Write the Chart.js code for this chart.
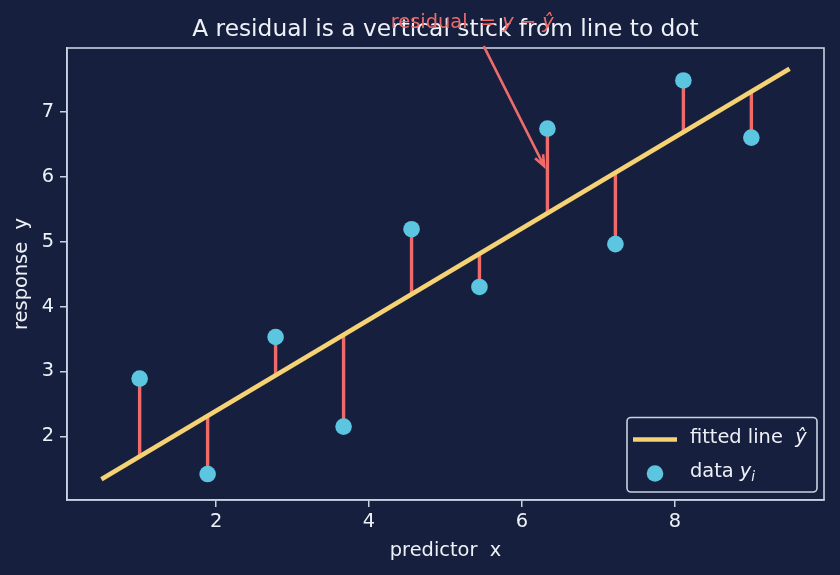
<!DOCTYPE html>
<html>
<head>
<meta charset="utf-8">
<script src="https://cdn.jsdelivr.net/npm/chart.js@4"></script>
<style>
html, body { margin: 0; padding: 0; background: #16203e; }
#wrap { width: 840px; height: 575px; }
</style>
</head>
<body>
<div id="wrap"><canvas id="chart" width="840" height="575"></canvas></div>
<script>
// data
const xValues = [1.0, 1.889, 2.778, 3.667, 4.556, 5.444, 6.333, 7.222, 8.111, 9.0];
const yValues = [2.89, 1.42, 3.53, 2.15, 5.19, 4.30, 6.74, 4.96, 7.48, 6.60];
const fitX = [0.5, 9.5];
const fitY = [1.34, 7.66];
const xTicks = [2, 4, 6, 8];
const yTicks = [2, 3, 4, 5, 6, 7];
const arrowTip = [6.29, 6.16];
const arrowTail = [5.50, 8.01];
const noteAt = [5.35, 8.37];

const BG = '#16203e';
const TEXT = '#eef1f7';
const FRAME = '#c9d1e2';
const LINE = '#f5d273';
const DOT = '#5cc5e0';
const RED = '#ef6a6a';
const FONT = "'DejaVu Sans', sans-serif";
const FS = 19.4;

// fitted value on the line for a given x
const slope = (fitY[1] - fitY[0]) / (fitX[1] - fitX[0]);
const yHat = x => fitY[0] + slope * (x - fitX[0]);

// draws a row of text runs, centred on cx
function drawRuns(ctx, runs, cx, cy) {
    let total = 0;
    runs.forEach(r => { ctx.font = r.font; total += ctx.measureText(r.t).width; });
    let x = cx - total / 2;
    runs.forEach(r => {
        ctx.font = r.font;
        ctx.fillText(r.t, x, cy + (r.dy || 0));
        x += ctx.measureText(r.t).width;
    });
}

const residualPlugin = {
    id: 'residuals',
    beforeDraw(chart) {
        const ctx = chart.ctx;
        ctx.save();
        ctx.fillStyle = BG;
        ctx.fillRect(0, 0, chart.width, chart.height);
        ctx.restore();
    },
    beforeDatasetsDraw(chart) {
        const ctx = chart.ctx;
        const xs = chart.scales.x, ys = chart.scales.y;
        ctx.save();
        ctx.strokeStyle = RED;
        ctx.lineWidth = 3.4;
        xValues.forEach((x, i) => {
            const px = xs.getPixelForValue(x);
            ctx.beginPath();
            ctx.moveTo(px, ys.getPixelForValue(yValues[i]));
            ctx.lineTo(px, ys.getPixelForValue(yHat(x)));
            ctx.stroke();
        });
        ctx.restore();
    },
    afterDatasetsDraw(chart) {
        const ctx = chart.ctx;
        const xs = chart.scales.x, ys = chart.scales.y;
        const a = chart.chartArea;
        ctx.save();

        // frame round the plot
        ctx.strokeStyle = FRAME;
        ctx.lineWidth = 1.6;
        ctx.strokeRect(a.left, a.top, a.right - a.left, a.bottom - a.top);

        // title
        ctx.fillStyle = TEXT;
        ctx.textAlign = 'left';
        ctx.textBaseline = 'middle';
        drawRuns(ctx, [{ t: 'A residual is a vertical stick from line to dot', font: '23.3px ' + FONT }],
            (a.left + a.right) / 2, 30);

        // arrow
        const tx = xs.getPixelForValue(arrowTail[0]), ty = ys.getPixelForValue(arrowTail[1]);
        const hx = xs.getPixelForValue(arrowTip[0]), hy = ys.getPixelForValue(arrowTip[1]);
        ctx.strokeStyle = RED;
        ctx.lineWidth = 2.6;
        ctx.beginPath();
        ctx.moveTo(tx, ty);
        ctx.lineTo(hx, hy);
        const ang = Math.atan2(hy - ty, hx - tx);
        const hl = 12;
        ctx.moveTo(hx - hl * Math.cos(ang - 0.38), hy - hl * Math.sin(ang - 0.38));
        ctx.lineTo(hx, hy);
        ctx.lineTo(hx - hl * Math.cos(ang + 0.38), hy - hl * Math.sin(ang + 0.38));
        ctx.stroke();

        // annotation text
        ctx.fillStyle = RED;
        const norm = FS + 'px ' + FONT, ital = 'oblique ' + FS + 'px ' + FONT;
        drawRuns(ctx, [
            { t: 'residual  ', font: norm },
            { t: '= ', font: norm },
            { t: 'y', font: ital },
            { t: ' \u2212 ', font: norm },
            { t: '\u0177', font: ital }
        ], xs.getPixelForValue(noteAt[0]), ys.getPixelForValue(noteAt[1]));

        // legend
        const lx = 627, ly = 417.5, lw = 190, lh = 74.5;
        ctx.fillStyle = 'rgba(22,32,62,0.85)';
        ctx.strokeStyle = FRAME;
        ctx.lineWidth = 1.6;
        ctx.beginPath();
        ctx.roundRect(lx, ly, lw, lh, 4);
        ctx.fill();
        ctx.stroke();

        ctx.strokeStyle = LINE;
        ctx.lineWidth = 4.6;
        ctx.beginPath();
        ctx.moveTo(lx + 6, ly + 22);
        ctx.lineTo(lx + 50, ly + 22);
        ctx.stroke();

        ctx.fillStyle = DOT;
        ctx.beginPath();
        ctx.arc(lx + 28, ly + 56, 8.3, 0, Math.PI * 2);
        ctx.fill();

        ctx.fillStyle = TEXT;
        ctx.textAlign = 'left';
        const lf = FS + 'px ' + FONT, lfi = 'oblique ' + FS + 'px ' + FONT;
        const tx0 = lx + 63;
        ctx.font = lf;
        ctx.fillText('fitted line  ', tx0, ly + 20);
        let w = ctx.measureText('fitted line  ').width;
        ctx.font = lfi;
        ctx.fillText('\u0177', tx0 + w, ly + 20);

        ctx.font = lf;
        ctx.fillText('data ', tx0, ly + 54);
        w = ctx.measureText('data ').width;
        ctx.font = lfi;
        ctx.fillText('y', tx0 + w, ly + 54);
        const w2 = ctx.measureText('y').width;
        ctx.font = 'oblique 13.5px ' + FONT;
        ctx.fillText('i', tx0 + w + w2, ly + 60);

        ctx.restore();
    }
};

const axisFont = { family: FONT, size: FS };

new Chart(document.getElementById('chart'), {
    type: 'scatter',
    data: {
        datasets: [{
            type: 'line',
            label: 'fitted line',
            data: fitX.map((x, i) => ({ x: x, y: fitY[i] })),
            borderColor: LINE,
            borderWidth: 4.6,
            pointRadius: 0,
            fill: false,
            order: 2
        }, {
            label: 'data',
            data: xValues.map((x, i) => ({ x: x, y: yValues[i] })),
            backgroundColor: DOT,
            borderWidth: 0,
            pointRadius: 8.3,
            order: 1
        }]
    },
    options: {
        responsive: false,
        devicePixelRatio: 1,
        animation: false,
        layout: { padding: { top: 48, right: 16, left: 0, bottom: 0 } },
        plugins: {
            legend: { display: false },
            tooltip: { enabled: false },
            title: { display: false }
        },
        scales: {
            x: {
                type: 'linear',
                min: 0.05,
                max: 9.95,
                afterBuildTicks: s => { s.ticks = xTicks.map(v => ({ value: v })); },
                afterFit: s => { s.height = 75; },
                grid: { drawOnChartArea: false, drawTicks: true, tickLength: 7, color: FRAME, lineWidth: 1.5 },
                border: { display: true, color: FRAME, width: 1.6 },
                ticks: { color: TEXT, font: axisFont, padding: 3, maxRotation: 0 },
                title: { display: true, text: 'predictor  x', color: TEXT, font: axisFont, padding: { top: 0, bottom: 12 } }
            },
            y: {
                type: 'linear',
                min: 1.02,
                max: 7.98,
                afterBuildTicks: s => { s.ticks = yTicks.map(v => ({ value: v })); },
                afterFit: s => { s.width = 67; },
                grid: { drawOnChartArea: false, drawTicks: true, tickLength: 7, color: FRAME, lineWidth: 1.5 },
                border: { display: true, color: FRAME, width: 1.6 },
                ticks: { color: TEXT, font: axisFont, padding: 6 },
                title: { display: true, text: 'response  y', color: TEXT, font: axisFont, padding: { top: 10, bottom: 0 } }
            }
        }
    },
    plugins: [residualPlugin]
});
</script>
</body>
</html>
